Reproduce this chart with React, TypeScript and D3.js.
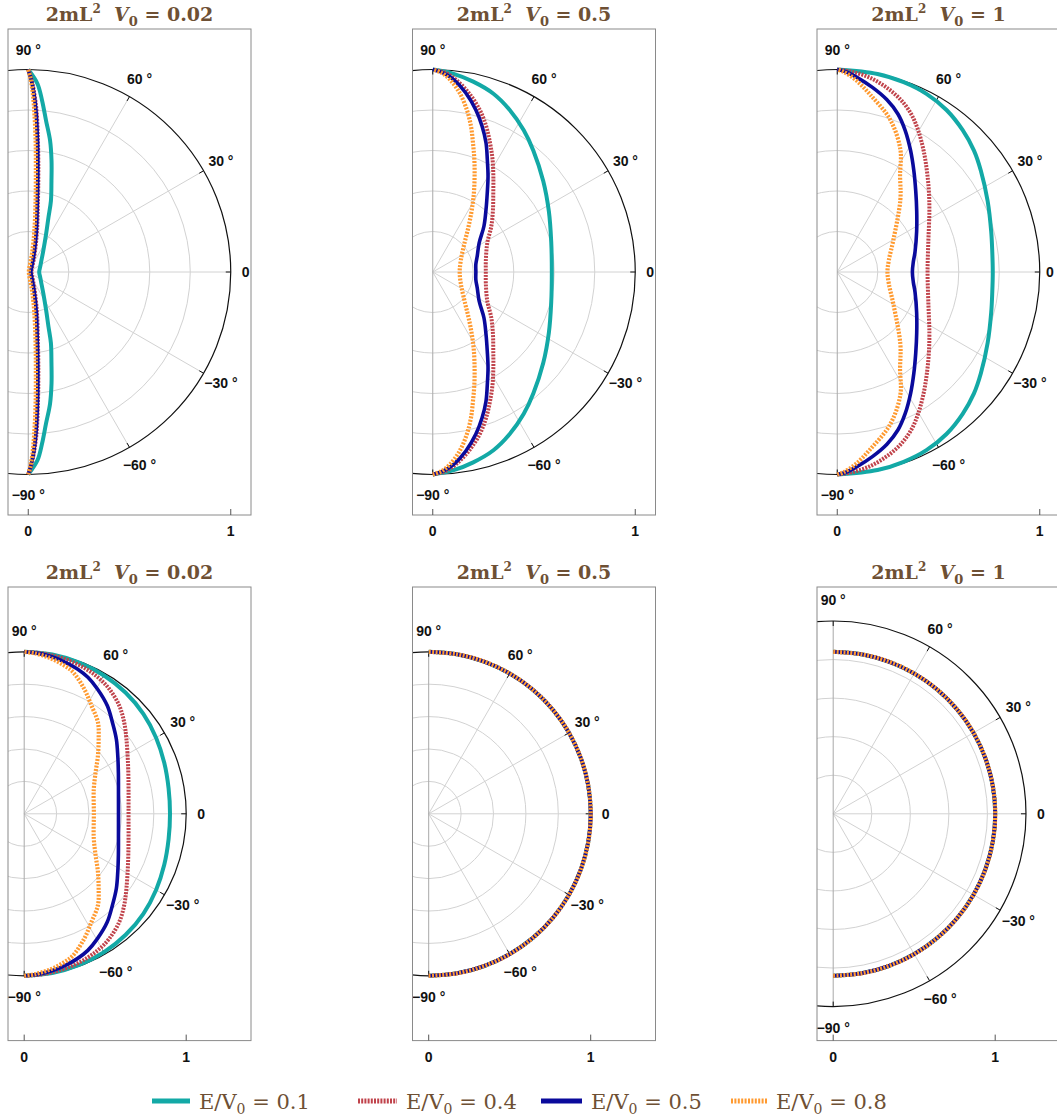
import React from "react";
import * as d3 from "d3";

// ---------- data ----------
const titleValues = ["0.02", "0.5", "1", "0.02", "0.5", "1"];
const seriesLabels = ["0.1", "0.4", "0.5", "0.8"];
const angleTicks = [90, 60, 30, 0, -30, -60, -90];
const xTicks = [0, 1];
const outerRadius = [1, 1, 1, 1, 1, 1.19];

// [theta (deg), r] for the upper half; every curve is symmetric about theta = 0
const p1Teal = [[0, 0.054], [23.8, 0.0645], [39.1, 0.0825], [54.6, 0.128], [64.9, 0.208], [69.7, 0.288], [72.3, 0.368], [75.7, 0.464], [78.2, 0.562], [80.6, 0.659], [83.3, 0.753], [85.4, 0.85], [87.2, 0.931], [90, 1]];
const p1Red = [[0, 0.016], [61.9, 0.051], [71.7, 0.105], [77.9, 0.205], [82.2, 0.353], [84.3, 0.502], [85.8, 0.652], [87.1, 0.801], [88.3, 0.9], [89.2, 0.96], [90, 1]];
const p1Navy = [[0, 0.013], [63.7, 0.045], [73.3, 0.104], [78.7, 0.204], [82.7, 0.353], [84.6, 0.502], [86, 0.652], [87.3, 0.801], [88.4, 0.9], [89.3, 0.96], [90, 1]];
const p1Orange = [[0, 0.003], [77.5, 0.046], [78.7, 0.102], [81.5, 0.202], [84.1, 0.352], [85.7, 0.501], [86.8, 0.651], [87.9, 0.801], [88.7, 0.9], [89.4, 0.96], [90, 1]];

const p2Teal = [[0, 0.588], [14.4, 0.604], [27.6, 0.647], [39.5, 0.707], [50.4, 0.779], [57.3, 0.832], [64.6, 0.886], [71.2, 0.93], [78, 0.961], [84.2, 0.985], [90, 1]];
const p2Red = [[0, 0.262], [12, 0.268], [28, 0.305], [38, 0.367], [46, 0.428], [52.5, 0.491], [57.7, 0.56], [62, 0.629], [66.1, 0.698], [69.9, 0.767], [73.8, 0.833], [78.7, 0.903], [83.2, 0.957], [86.3, 0.985], [90, 1]];
const p2Navy = [[0, 0.213], [10, 0.216], [20, 0.234], [32, 0.27], [41.8, 0.339], [49.5, 0.405], [55.4, 0.474], [60, 0.546], [64.1, 0.617], [67.6, 0.69], [71.3, 0.76], [75.1, 0.828], [79.6, 0.9], [83.8, 0.956], [86.9, 0.984], [90, 1]];
const p2Orange = [[0, 0.133], [23.7, 0.152], [42.3, 0.212], [51.9, 0.287], [57.9, 0.363], [62.5, 0.44], [66.4, 0.516], [69.7, 0.592], [72.7, 0.668], [75.3, 0.744], [78.1, 0.818], [81.5, 0.895], [84.9, 0.954], [87.4, 0.984], [90, 1]];

const p3Teal = [[0, 0.768], [7.4, 0.772], [14.7, 0.786], [25.2, 0.821], [35.2, 0.868], [41.6, 0.903], [48.5, 0.935], [56, 0.965], [63.4, 0.984], [70.7, 0.993], [78.5, 0.998], [90, 1]];
const p3Red = [[0, 0.446], [18.4, 0.474], [33.4, 0.545], [41.5, 0.604], [48.5, 0.668], [54.6, 0.736], [60.3, 0.806], [64.9, 0.861], [69.7, 0.906], [74.9, 0.942], [80.5, 0.973], [86, 0.992], [90, 1]];
const p3Navy = [[0, 0.371], [7.6, 0.379], [14.6, 0.397], [27, 0.44], [37.4, 0.494], [45.9, 0.557], [52.9, 0.627], [58.9, 0.701], [64.4, 0.776], [69, 0.836], [73.9, 0.885], [79.1, 0.927], [84.1, 0.965], [87.7, 0.991], [90, 1]];
const p3Orange = [[0, 0.248], [13.2, 0.262], [29.7, 0.319], [48.8, 0.473], [57.1, 0.571], [62.7, 0.68], [70.8, 0.796], [79.5, 0.891], [84.6, 0.954], [88.3, 0.99], [90, 1]];

const p4Teal = [[0, 0.9], [10, 0.905], [20, 0.92], [30, 0.94], [40, 0.96], [50, 0.975], [60, 0.986], [70, 0.993], [80, 0.998], [90, 1]];
const p4Red = [[0, 0.644], [13, 0.661], [24.7, 0.706], [36.1, 0.781], [42.4, 0.836], [48.7, 0.889], [55.8, 0.933], [61, 0.955], [66, 0.97], [72, 0.983], [78, 0.991], [84, 0.997], [90, 1]];
const p4Navy = [[0, 0.582], [14.5, 0.601], [23.5, 0.634], [31.7, 0.679], [39, 0.732], [46, 0.784], [52.5, 0.842], [59.7, 0.894], [65, 0.93], [70, 0.953], [75, 0.97], [80, 0.984], [85, 0.994], [90, 1]];
const p4Orange = [[0, 0.43], [19.3, 0.455], [29.9, 0.508], [38.1, 0.578], [45.1, 0.651], [51.1, 0.725], [58.1, 0.786], [64.4, 0.856], [71.1, 0.926], [75, 0.949], [80.2, 0.973], [86, 0.992], [90, 1]];

const p5Teal = [[0, 1], [10, 1], [20, 1], [30, 1], [40, 1], [50, 1], [60, 1], [70, 1], [80, 1], [90, 1]];
const p5Red = [[0, 1], [10, 1], [20, 1], [30, 1], [40, 1], [50, 1], [60, 1], [70, 1], [80, 1], [90, 1]];
const p5Navy = [[0, 1], [10, 1], [20, 1], [30, 1], [40, 1], [50, 1], [60, 1], [70, 1], [80, 1], [90, 1]];
const p5Orange = [[0, 1], [10, 1], [20, 1], [30, 1], [40, 1], [50, 1], [60, 1], [70, 1], [80, 1], [90, 1]];

const p6Teal = [[0, 1], [10, 1], [20, 1], [30, 1], [40, 1], [50, 1], [60, 1], [70, 1], [80, 1], [90, 1]];
const p6Red = [[0, 1], [10, 1], [20, 1], [30, 1], [40, 1], [50, 1], [60, 1], [70, 1], [80, 1], [90, 1]];
const p6Navy = [[0, 1], [10, 1], [20, 1], [30, 1], [40, 1], [50, 1], [60, 1], [70, 1], [80, 1], [90, 1]];
const p6Orange = [[0, 1], [10, 1], [20, 1], [30, 1], [40, 1], [50, 1], [60, 1], [70, 1], [80, 1], [90, 1]];

const panelCurves = [
  [p1Teal, p1Red, p1Navy, p1Orange],
  [p2Teal, p2Red, p2Navy, p2Orange],
  [p3Teal, p3Red, p3Navy, p3Orange],
  [p4Teal, p4Red, p4Navy, p4Orange],
  [p5Teal, p5Red, p5Navy, p5Orange],
  [p6Teal, p6Red, p6Navy, p6Orange],
];

// ---------- style ----------
const BROWN = "#6e5034";
const COLORS = ["#13a9a6", "#c0434b", "#0a0a9c", "#ff9a30"];
const DASH = [undefined, "2,1.2", undefined, "2,1.4"];
const WIDTHS = [4, 4, 3.6, 4.2];
const LEFTS = [8, 412.5, 817];
const TOPS = [29, 587];
const FRAME_W = 243;
const LEGEND_X = [152, 358, 541, 731];
const LEGEND_W = [38, 39, 41, 36];
const SANS = "'Liberation Sans', Arial, Helvetica, sans-serif";
const SERIF = "'DejaVu Serif', serif";

const toRad = (deg: number) => ((90 - deg) * Math.PI) / 180;

function fullCurve(half: number[][]) {
  const lower = half.slice(1).map(([t, r]) => [-t, r]).reverse();
  return [...lower, ...half];
}

function Panel({ idx }: { idx: number }) {
  const row = idx < 3 ? 0 : 1;
  const left = LEFTS[idx % 3];
  const top = TOPS[row];
  const xMax = row === 0 ? 1.1 : 1.4;
  const yMax = row === 0 ? 1.2 : 1.4;
  const unit = FRAME_W / (xMax + 0.1);
  const h = 2 * yMax * unit;
  const x = d3.scaleLinear().domain([-0.1, xMax]).range([left, left + FRAME_W]);
  const y = d3.scaleLinear().domain([-yMax, yMax]).range([top + h, top]);
  const cx = x(0);
  const cy = y(0);
  const rs = d3.scaleLinear().domain([0, 1]).range([0, unit]);
  const R = outerRadius[idx];
  const Rpx = rs(R);
  const clipId = `clip${idx}`;

  const line = d3
    .lineRadial<number[]>()
    .angle((d) => toRad(d[0]))
    .radius((d) => rs(d[1]))
    .curve(d3.curveCatmullRom.alpha(0.5));

  const pol = (deg: number, r: number) => {
    const a = (deg * Math.PI) / 180;
    return [cx + r * Math.cos(a), cy - r * Math.sin(a)];
  };

  const gridR = [1, 2, 3, 4].map((k) => (R * k) / 5);

  return (
    <g>
      <defs>
        <clipPath id={clipId}>
          <rect x={left} y={top} width={FRAME_W} height={h} />
        </clipPath>
      </defs>
      <g clipPath={`url(#${clipId})`}>
        {gridR.map((g, i) => (
          <circle key={i} cx={cx} cy={cy} r={rs(g)} fill="none" stroke="#d2d2d2" strokeWidth={1} />
        ))}
        {[60, 30, 0, -30, -60].map((a) => {
          const [x2, y2] = pol(a, Rpx);
          return <line key={a} x1={cx} y1={cy} x2={x2} y2={y2} stroke="#d2d2d2" strokeWidth={1} />;
        })}
        <line x1={cx} y1={cy - Rpx} x2={cx} y2={cy + Rpx} stroke="#a8a8a8" strokeWidth={1} />
        <circle cx={cx} cy={cy} r={Rpx} fill="none" stroke="#111" strokeWidth={1.2} />
        {angleTicks.map((a) => {
          const [x1, y1] = pol(a, Rpx - 5);
          const [x2, y2] = pol(a, Rpx);
          return <line key={a} x1={x1} y1={y1} x2={x2} y2={y2} stroke="#111" strokeWidth={1} />;
        })}
        {panelCurves[idx].map((c, i) => (
          <path
            key={i}
            transform={`translate(${cx},${cy})`}
            d={line(fullCurve(c)) || ""}
            fill="none"
            stroke={COLORS[i]}
            strokeWidth={WIDTHS[i]}
            strokeDasharray={DASH[i]}
          />
        ))}
      </g>
      {angleTicks.map((a) => {
        const label = a === 0 ? "0" : `${a < 0 ? "\u2212" : ""}${Math.abs(a)}\u00a0\u00b0`;
        const off = a === 0 ? 15 : row === 0 ? 20 : 21;
        const [lx0, ly] = pol(a, Rpx + off);
        const lx = Math.min(lx0, 1050);
        return (
          <text
            key={a}
            x={lx}
            y={ly}
            textAnchor="middle"
            dominantBaseline="central"
            fontFamily={SANS}
            fontWeight={700}
            fontSize={14}
            fill="#111"
          >
            {label}
          </text>
        );
      })}
      <rect x={left} y={top} width={FRAME_W} height={h} fill="none" stroke="#8a8a8a" strokeWidth={1} />
      {xTicks.map((t) => (
        <g key={t}>
          <line x1={x(t)} x2={x(t)} y1={top + h} y2={top + h - 6} stroke="#555" strokeWidth={1} />
          <text
            x={x(t)}
            y={top + h + 21}
            textAnchor="middle"
            fontFamily={SANS}
            fontWeight={700}
            fontSize={14}
            fill="#111"
          >
            {t}
          </text>
        </g>
      ))}
      <text
        x={left + FRAME_W / 2}
        y={top - 8}
        textAnchor="middle"
        fontFamily={SERIF}
        fontWeight="bold"
        fontSize={19}
        fill={BROWN}
      >
        2mL
        <tspan dy={-8} fontSize={12}>2</tspan>
        <tspan dy={8}>{"\u00a0\u00a0"}</tspan>
        <tspan fontStyle="italic">V</tspan>
        <tspan dy={5} fontSize={13}>0</tspan>
        <tspan dy={-5}>{"\u00a0=\u00a0" + titleValues[idx]}</tspan>
      </text>
    </g>
  );
}

export default function App() {
  return (
    <svg
      width={1057}
      height={1117}
      style={{ position: "absolute", left: 0, top: 0, background: "#fff" }}
    >
      <rect x={0} y={0} width={1057} height={1117} fill="#fff" />
      {[0, 1, 2, 3, 4, 5].map((i) => (
        <Panel key={i} idx={i} />
      ))}
      {seriesLabels.map((s, i) => (
        <g key={s}>
          <line
            x1={LEGEND_X[i]}
            x2={LEGEND_X[i] + LEGEND_W[i]}
            y1={1101}
            y2={1101}
            stroke={COLORS[i]}
            strokeWidth={5}
            strokeDasharray={DASH[i]}
          />
          <text
            x={LEGEND_X[i] + LEGEND_W[i] + 9}
            y={1109}
            fontFamily={SERIF}
            fontSize={21}
            fill={BROWN}
          >
            E/V
            <tspan dy={5} fontSize={14}>0</tspan>
            <tspan dy={-5}>{"\u00a0=\u00a0" + s}</tspan>
          </text>
        </g>
      ))}
    </svg>
  );
}
